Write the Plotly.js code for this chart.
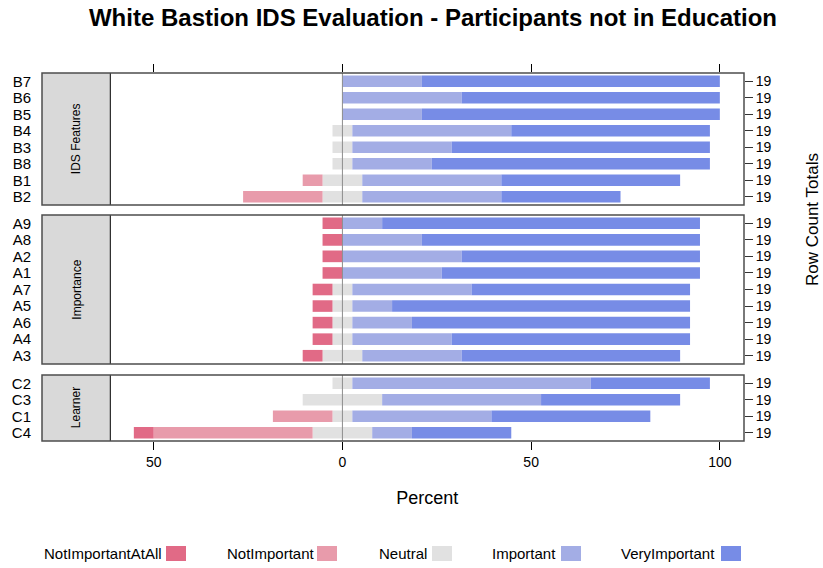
<!DOCTYPE html>
<html>
<head>
<meta charset="utf-8">
<script src="https://cdn.plot.ly/plotly-3.0.1.min.js"></script>
<style>html,body{margin:0;padding:0;background:#fff;}#chart{width:823px;height:568px;}</style>
</head>
<body>
<div id="chart"></div>
<script>
// ---------- DATA (counts of respondents, rows listed top to bottom) ----------
const panelNames = ["IDS Features", "Importance", "Learner"];

const idsLabels        = ["B7","B6","B5","B4","B3","B8","B1","B2"];
const idsNotAtAll      = [0,0,0,0,0,0,0,0];
const idsNotImportant  = [0,0,0,0,0,0,1,4];
const idsNeutral       = [0,0,0,1,1,1,2,2];
const idsImportant     = [4,6,4,8,5,4,7,7];
const idsVery          = [15,13,15,10,13,14,9,6];

const impLabels        = ["A9","A8","A2","A1","A7","A5","A6","A4","A3"];
const impNotAtAll      = [1,1,1,1,1,1,1,1,1];
const impNotImportant  = [0,0,0,0,0,0,0,0,0];
const impNeutral       = [0,0,0,0,1,1,1,1,2];
const impImportant     = [2,4,6,5,6,2,3,5,5];
const impVery          = [16,14,12,13,11,15,14,12,11];

const lrnLabels        = ["C2","C3","C1","C4"];
const lrnNotAtAll      = [0,0,0,1];
const lrnNotImportant  = [0,0,3,8];
const lrnNeutral       = [1,4,1,3];
const lrnImportant     = [12,8,7,2];
const lrnVery          = [6,7,8,5];

const levelNames = ["NotImportantAtAll","NotImportant","Neutral","Important","VeryImportant"];
const levelColors = ["#E16A86","#E89BAB","#E1E1E1","#A3ADE5","#778CE6"];

// ---------- BUILD ----------
const panels = [
  {labels: idsLabels, d: [idsNotAtAll, idsNotImportant, idsNeutral, idsImportant, idsVery]},
  {labels: impLabels, d: [impNotAtAll, impNotImportant, impNeutral, impImportant, impVery]},
  {labels: lrnLabels, d: [lrnNotAtAll, lrnNotImportant, lrnNeutral, lrnImportant, lrnVery]}
];

const L = 42, R = 744, T = 73, B = 441;
const W = R - L, H = B - T;
const px = v => (v - L) / W;
const py = v => (B - v) / H;
const stripEnd = px(110.3);
const domains = [[py(205), 1], [py(364), py(215)], [0, py(375)]];
const leftAxes = ["y","y2","y3"];
const rightAxes = ["y4","y5","y6"];

const traces = [];
const layout = {
  width: 823, height: 568,
  margin: {l: L, r: 823 - R, t: T, b: 568 - B, pad: 0},
  paper_bgcolor: "#fff", plot_bgcolor: "rgba(0,0,0,0)",
  font: {family: "Liberation Sans, Arial, sans-serif", color: "#000"},
  showlegend: false,
  barmode: "relative",
  bargap: 0.3,
  title: {text: "<b>White Bastion IDS Evaluation - Participants not in Education</b>",
          font: {size: 24, color: "#000"}, x: 433/823, xref: "container", xanchor: "center",
          y: 1 - 18/568, yref: "container", yanchor: "middle"},
  shapes: [], annotations: []
};

const xRange = [-61.5, 106.4];
layout.xaxis = {domain: [stripEnd, 1], range: xRange, anchor: "y3", fixedrange: true,
  tickmode: "array", tickvals: [-50,0,50,100], ticktext: ["50","0","50","100"],
  ticks: "outside", ticklen: 8, tickwidth: 1, tickcolor: "#000",
  showgrid: false, zeroline: false, showline: false,
  tickfont: {size: 14},
  title: {text: "Percent", font: {size: 18}, standoff: 22}};
layout.xaxis2 = {overlaying: "x", anchor: "y", side: "top", range: xRange,
  tickmode: "array", tickvals: [-50,0,50,100], ticks: "outside", ticklen: 8, tickcolor: "#000",
  showticklabels: false, showgrid: false, zeroline: false, showline: false};

panels.forEach((p, i) => {
  const n = p.labels.length;
  const totals = p.labels.map((_, k) => p.d.reduce((s, arr) => s + arr[k], 0));
  const pct = p.d.map(arr => arr.map((v, k) => v / totals[k] * 100));
  const cats = p.labels.slice().reverse();
  const yl = leftAxes[i], yr = rightAxes[i];
  const yKey = "yaxis" + (i === 0 ? "" : (i + 1));
  const yrKey = "yaxis" + (i + 4);
  layout[yKey] = {domain: domains[i], anchor: "free", position: 0, type: "category",
    categoryarray: cats, categoryorder: "array", range: [-0.5, n - 0.5], fixedrange: true,
    tickmode: "array", tickvals: cats, ticktext: cats,
    ticks: "outside", ticklen: 8, tickcolor: "rgba(0,0,0,0)",
    showgrid: false, zeroline: false, showline: false, tickfont: {size: 15}};
  layout[yrKey] = {overlaying: yl, side: "right", anchor: "x", type: "category",
    categoryarray: cats, categoryorder: "array", range: [-0.5, n - 0.5],
    tickmode: "array", tickvals: cats, ticktext: cats.map(c => String(totals[p.labels.indexOf(c)])),
    ticks: "outside", ticklen: 8, tickcolor: "#333", tickwidth: 1,
    showgrid: false, zeroline: false, showline: false, tickfont: {size: 14}};

  const bar = (vals, colorIdx) => ({
    type: "bar", orientation: "h", y: p.labels, x: vals,
    xaxis: "x", yaxis: yl, marker: {color: levelColors[colorIdx], line: {width: 0}},
    hoverinfo: "skip", showlegend: false
  });
  // negative side, stacked outward from zero
  traces.push(bar(pct[2].map(v => -v / 2), 2));
  traces.push(bar(pct[1].map(v => -v), 1));
  traces.push(bar(pct[0].map(v => -v), 0));
  // positive side
  traces.push(bar(pct[2].map(v => v / 2), 2));
  traces.push(bar(pct[3], 3));
  traces.push(bar(pct[4], 4));
  // invisible trace carrying right-hand axis
  traces.push({type: "scatter", mode: "markers", x: p.labels.map(() => 0), y: p.labels,
    xaxis: "x", yaxis: yr, marker: {opacity: 0}, hoverinfo: "skip", showlegend: false});

  // strip
  layout.shapes.push({type: "rect", xref: "paper", yref: "paper", x0: 0, x1: stripEnd,
    y0: domains[i][0], y1: domains[i][1], fillcolor: "#D9D9D9", line: {width: 0}, layer: "below"});
  layout.shapes.push({type: "line", xref: "paper", yref: "paper", x0: stripEnd, x1: stripEnd,
    y0: domains[i][0], y1: domains[i][1], line: {color: "#000", width: 1}});
  // zero reference line
  layout.shapes.push({type: "line", xref: "x", yref: yl + " domain", x0: 0, x1: 0, y0: 0, y1: 1,
    line: {color: "#8C8C8C", width: 1}, layer: "above"});
  // panel border
  layout.shapes.push({type: "rect", xref: "paper", yref: "paper", x0: 0, x1: 1,
    y0: domains[i][0], y1: domains[i][1], line: {color: "#4D4D4D", width: 1.5}, layer: "above"});
  layout.annotations.push({xref: "paper", yref: "paper", x: stripEnd / 2,
    y: (domains[i][0] + domains[i][1]) / 2, text: panelNames[i], textangle: -90,
    showarrow: false, font: {size: 12, color: "#000"}, xanchor: "center", yanchor: "middle"});
});

// invisible trace for the top tick axis
traces.push({type: "scatter", mode: "markers", x: [0], y: [idsLabels[0]], xaxis: "x2", yaxis: "y",
  marker: {opacity: 0}, hoverinfo: "skip", showlegend: false});

// right-hand title
layout.annotations.push({xref: "paper", yref: "paper", x: px(812), y: py(220),
  text: "Row Count Totals", textangle: -90, showarrow: false, font: {size: 17},
  xanchor: "center", yanchor: "middle", borderpad: 0});

// legend (text followed by a key square)
const legTextX = [43, 226, 378, 491, 620];
const legBoxX = [166, 317, 432, 561, 721];
levelNames.forEach((nm, k) => {
  layout.annotations.push({xref: "paper", yref: "paper", x: px(legTextX[k]), y: py(553.5),
    text: nm, showarrow: false, xanchor: "left", yanchor: "middle", font: {size: 15}, borderpad: 0});
  layout.shapes.push({type: "rect", xref: "paper", yref: "paper", x0: px(legBoxX[k]), x1: px(legBoxX[k] + 20),
    y0: py(561), y1: py(546), fillcolor: levelColors[k], line: {width: 0}});
});

Plotly.newPlot("chart", traces, layout, {staticPlot: true, displayModeBar: false});
</script>
</body>
</html>
